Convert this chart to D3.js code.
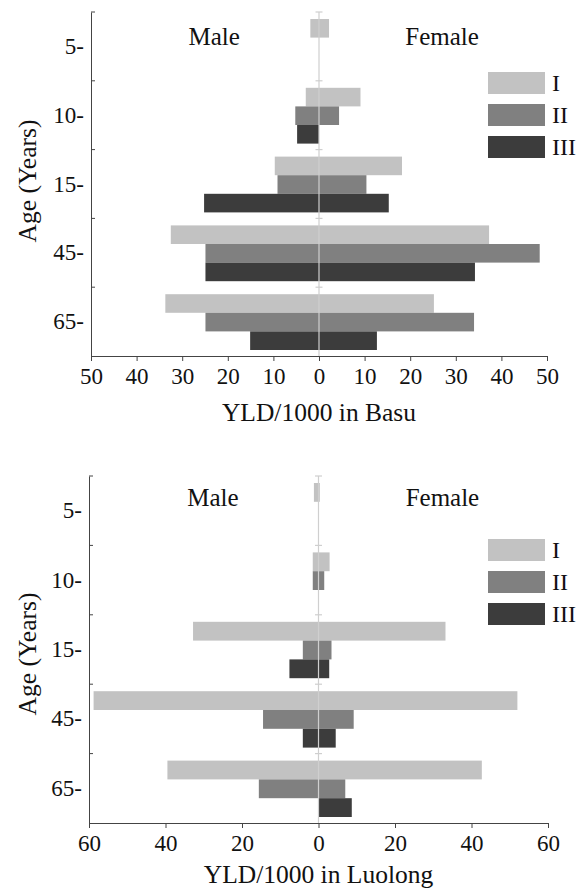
<!DOCTYPE html>
<html lang="en">
<head>
    <meta charset="UTF-8">
    <title>YLD pyramids</title>
    <script src="https://cdn.jsdelivr.net/npm/d3@7"></script>
    <style>
        body { margin: 0; background: #fff; }
        svg text { font-family: "Liberation Serif", "Times New Roman", serif; fill: #111; }
    </style>
</head>
<body>
<svg id="chart" width="577" height="892"></svg>

<script>
    // age groups and disease groups
    var ages = ["5-", "10-", "15-", "45-", "65-"];
    var groups = ["I", "II", "III"];
    var colors = ["#c2c2c2", "#808080", "#3c3c3c"];

    // Basu, one row per group (I, II, III), one value per age
    var basuMale = [
        [1.9, 2.9, 9.7, 32.5, 33.7],
        [0, 5.2, 9.1, 24.9, 24.9],
        [0, 4.8, 25.2, 24.9, 15.1]
    ];
    var basuFemale = [
        [2.2, 9.1, 18.2, 37.3, 25.2],
        [0, 4.4, 10.4, 48.4, 34.0],
        [0, 0, 15.3, 34.2, 12.7]
    ];

    // Luolong
    var luolongMale = [
        [1.2, 1.5, 32.8, 58.8, 39.5],
        [0, 1.5, 4.1, 14.5, 15.6],
        [0, 0, 7.6, 4.1, 0]
    ];
    var luolongFemale = [
        [0.35, 2.9, 33.2, 52.0, 42.7],
        [0, 1.5, 3.4, 9.2, 7.0],
        [0, 0, 2.8, 4.5, 8.7]
    ];

    var basuTicks = [-50, -40, -30, -20, -10, 0, 10, 20, 30, 40, 50];
    var luolongTicks = [-60, -40, -20, 0, 20, 40, 60];

    var svg = d3.select("#chart");

    drawPanel({
        left: 91, right: 547, top: 12, bottom: 356, max: 50,
        ticks: basuTicks, male: basuMale, female: basuFemale,
        title: "YLD/1000 in Basu", titleY: 421, yTitleY: 181,
        sexY: 45, legendY: 72
    });
    drawPanel({
        left: 89, right: 548, top: 476, bottom: 823, max: 60,
        ticks: luolongTicks, male: luolongMale, female: luolongFemale,
        title: "YLD/1000 in Luolong", titleY: 883, yTitleY: 654,
        sexY: 506, legendY: 539
    });

    function drawPanel(p){
        var g = svg.append("g");
        var x = d3.scaleLinear().domain([-p.max, p.max]).range([p.left, p.right]);
        var y = d3.scaleBand().domain(ages).range([p.top, p.bottom]);
        var sub = d3.scaleBand().domain(groups).range([7, y.bandwidth() - 6]);

        // bars, male to the left, female to the right
        groups.forEach(function(grp, gi){
            var rows = ages.map(function(a, ai){
                return { age: a, m: p.male[gi][ai], f: p.female[gi][ai] };
            });
            g.selectAll(null).data(rows).enter().append("rect")
                .attr("x", function(d){ return x(-d.m); })
                .attr("y", function(d){ return y(d.age) + sub(grp); })
                .attr("width", function(d){ return x(d.f) - x(-d.m); })
                .attr("height", sub.bandwidth())
                .attr("fill", colors[gi]);
        });

        // centre line with small caps at band edges
        var edges = ages.map(function(a){ return y(a); });
        g.append("line")
            .attr("x1", x(0)).attr("x2", x(0))
            .attr("y1", p.top).attr("y2", p.bottom)
            .attr("stroke", "#cfcfcf").attr("stroke-width", 1.2);
        g.selectAll(null).data(edges).enter().append("line")
            .attr("x1", x(0) - 3.5).attr("x2", x(0) + 3.5)
            .attr("y1", function(d){ return d; }).attr("y2", function(d){ return d; })
            .attr("stroke", "#cfcfcf").attr("stroke-width", 1.2);

        // x axis
        var xAxis = g.append("g")
            .attr("transform", "translate(0," + p.bottom + ")")
            .call(d3.axisBottom(x).tickValues(p.ticks)
                .tickFormat(function(d){ return Math.abs(d); })
                .tickSize(5).tickSizeOuter(0).tickPadding(7));
        xAxis.selectAll("text").attr("font-size", 23).style("font-family", null);
        xAxis.selectAll("line, path").attr("stroke", "#444");

        // y axis with category labels and inward ticks at band edges
        var yAxis = g.append("g")
            .attr("transform", "translate(" + p.left + ",0)")
            .call(d3.axisLeft(y).tickSize(0).tickPadding(7));
        yAxis.select("path").attr("stroke", "#444");
        yAxis.selectAll("text").attr("font-size", 23).attr("dy", "0.33em").style("font-family", null);
        g.selectAll(null).data(edges).enter().append("line")
            .attr("x1", p.left).attr("x2", p.left + 4)
            .attr("y1", function(d){ return d; }).attr("y2", function(d){ return d; })
            .attr("stroke", "#444");

        // titles
        g.append("text")
            .attr("x", x(0)).attr("y", p.titleY)
            .attr("text-anchor", "middle").attr("font-size", 25.5)
            .text(p.title);
        g.append("text")
            .attr("transform", "translate(27," + p.yTitleY + ") rotate(-90)")
            .attr("text-anchor", "middle").attr("dy", "0.35em").attr("font-size", 25.5)
            .text("Age (Years)");
        g.append("text")
            .attr("x", x(-p.max * 0.46)).attr("y", p.sexY)
            .attr("text-anchor", "middle").attr("font-size", 25)
            .text("Male");
        g.append("text")
            .attr("x", x(p.max * 0.54)).attr("y", p.sexY)
            .attr("text-anchor", "middle").attr("font-size", 25)
            .text("Female");

        // legend
        var leg = g.selectAll(null).data(groups).enter().append("g")
            .attr("transform", function(d, i){ return "translate(488," + (p.legendY + i * 32) + ")"; });
        leg.append("rect")
            .attr("width", 57).attr("height", 22)
            .attr("fill", function(d, i){ return colors[i]; });
        leg.append("text")
            .attr("x", 64).attr("y", 19)
            .attr("font-size", 24)
            .text(function(d){ return d; });
    }
</script>
</body>
</html>
